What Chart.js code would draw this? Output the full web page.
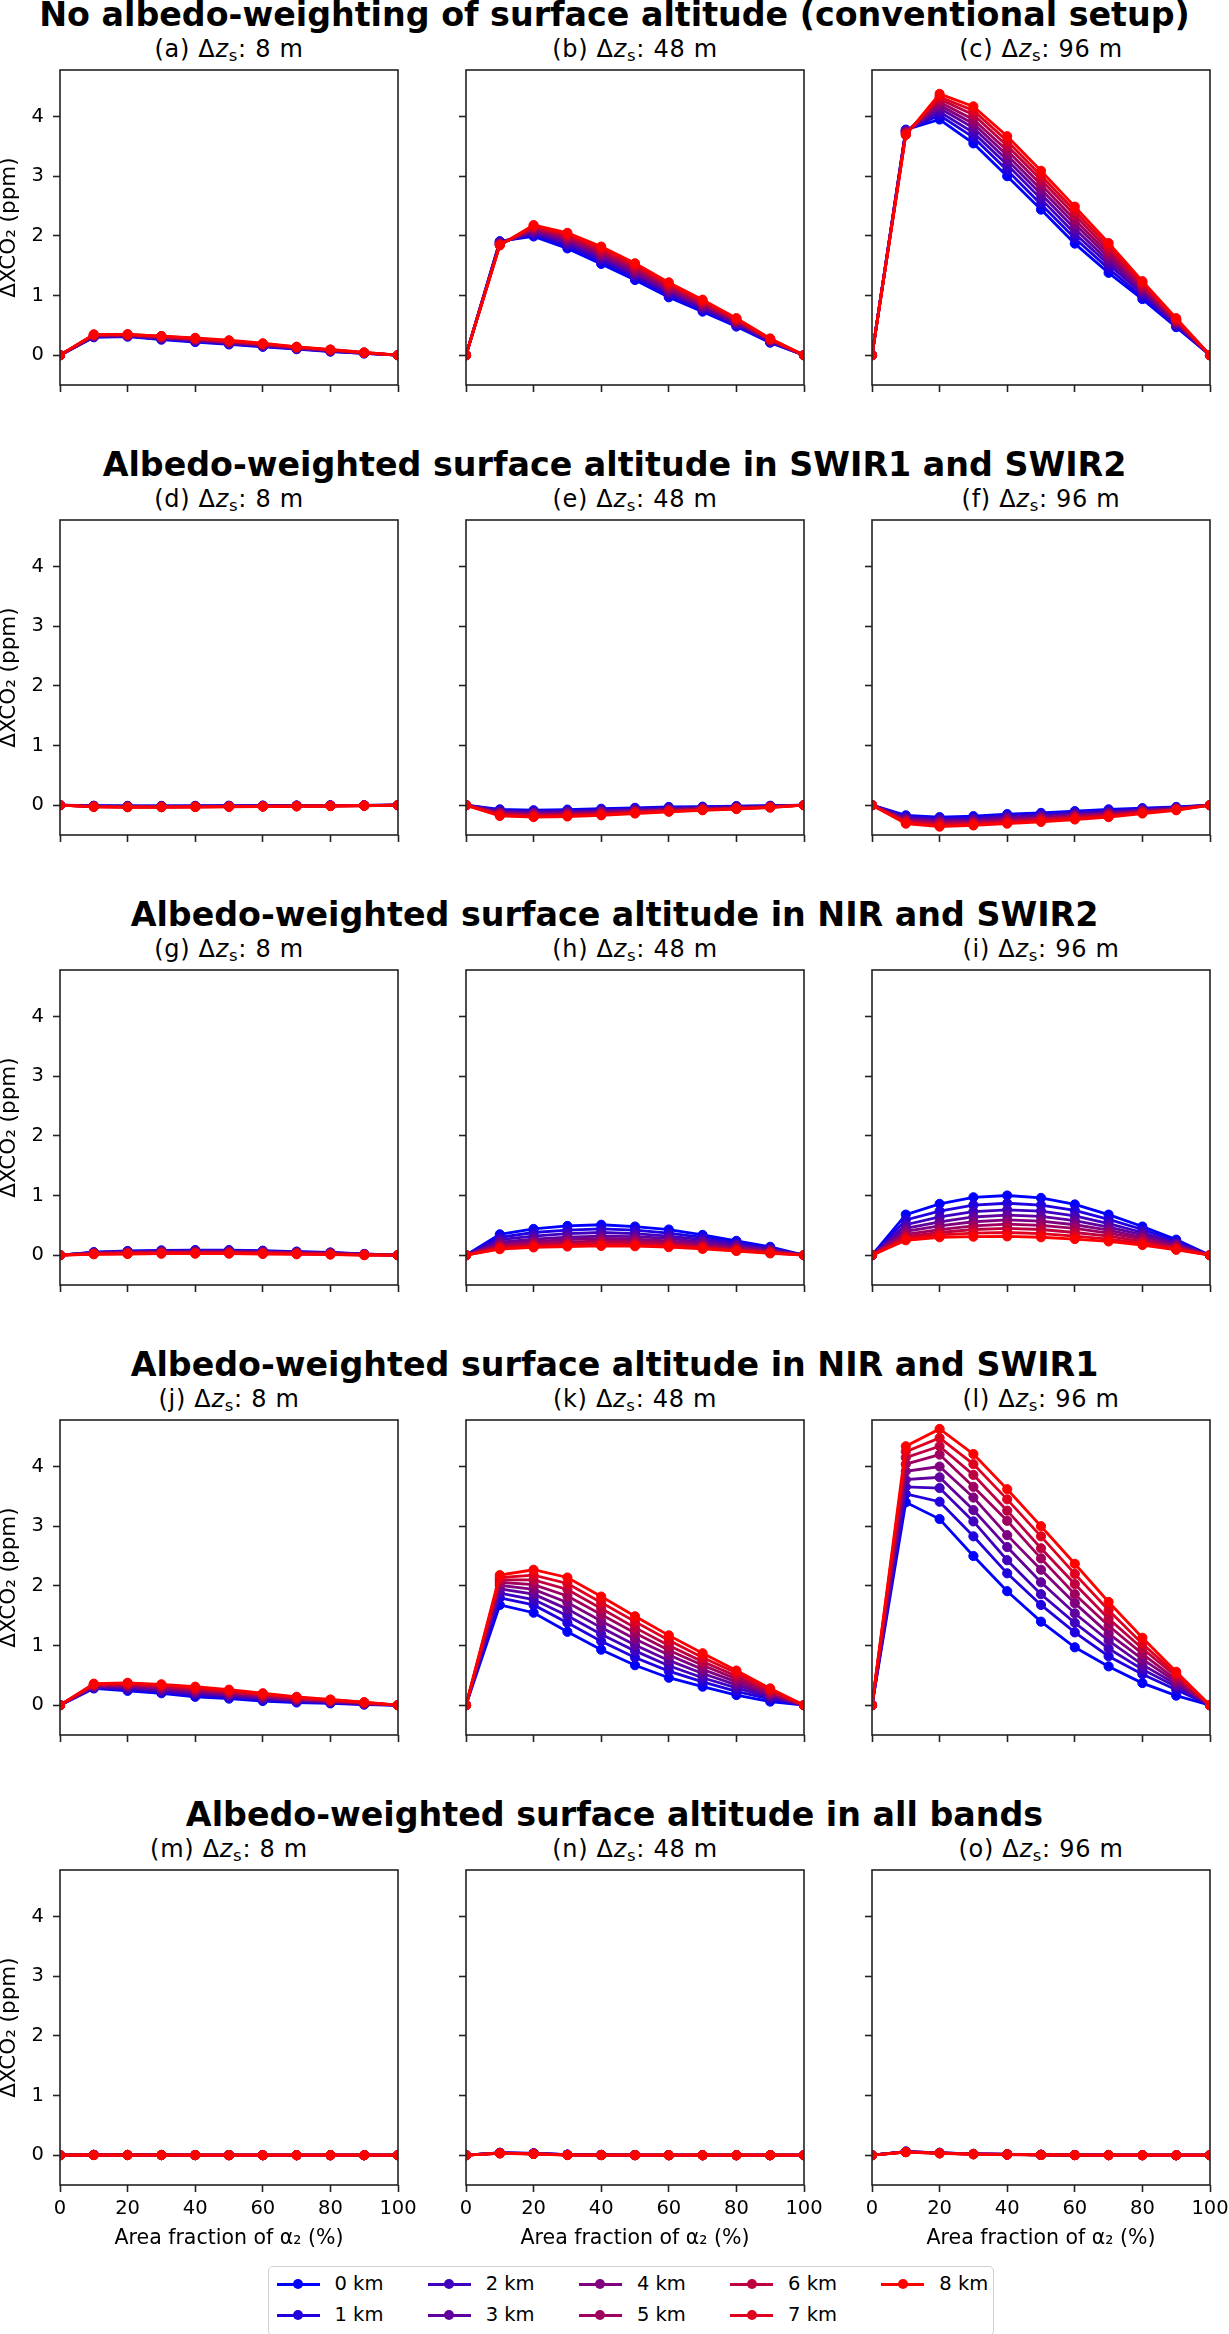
<!DOCTYPE html>
<html>
<head>
<meta charset="utf-8">
<script src="https://cdn.jsdelivr.net/npm/chart.js@4.4.1/dist/chart.umd.min.js"></script>
<style>
  body { margin: 0; background: #fff; font-family: "DejaVu Sans", sans-serif; }
  #fig { position: relative; width: 1229px; height: 2334px; overflow: hidden; background: #fff; }
  .rowtitle { position: absolute; left: 0; width: 1229px; text-align: center; font-weight: bold;
              font-size: 33.3px; line-height: 33.3px; white-space: nowrap; color: #000; }
  .sub { position: absolute; width: 338px; text-align: center; font-size: 24px; line-height: 24px;
         letter-spacing: 0.7px; white-space: nowrap; color: #000; }
  .sub sub { font-size: 16.5px; vertical-align: -4px; line-height: 0; }
  canvas { position: absolute; }
  #legend { position: absolute; left: 268px; top: 2266px; width: 726px; height: 70px;
            border: 1.5px solid #d0d0d0; border-radius: 5px; background: #fff; box-sizing: border-box; }
  .lg-item { position: absolute; height: 24px; }
  .lg-line { position: absolute; left: 0; top: 10.5px; width: 43px; height: 3px; }
  .lg-dot { position: absolute; left: 16.5px; top: 7px; width: 10px; height: 10px; border-radius: 50%; }
  .lg-text { position: absolute; left: 58px; top: 0; font-size: 19.5px; line-height: 24px; white-space: nowrap; }
</style>
</head>
<body>
<div id="fig"></div>
<script>
// x positions (area fraction of alpha2, %) and tick values
const xValues = [0, 10, 20, 30, 40, 50, 60, 70, 80, 90, 100];
const xTicks = [0, 20, 40, 60, 80, 100];
const yTicks = [0, 1, 2, 3, 4];
const altitudes = ['0 km', '1 km', '2 km', '3 km', '4 km', '5 km', '6 km', '7 km', '8 km'];
const colors = ['#0000ff', '#2000df', '#4000bf', '#60009f', '#800080', '#9f0060', '#bf0040', '#df0020', '#ff0000'];

const rowTitles = [
  'No albedo-weighting of surface altitude (conventional setup)',
  'Albedo-weighted surface altitude in SWIR1 and SWIR2',
  'Albedo-weighted surface altitude in NIR and SWIR2',
  'Albedo-weighted surface altitude in NIR and SWIR1',
  'Albedo-weighted surface altitude in all bands'
];
const panelLetters = ['a', 'b', 'c', 'd', 'e', 'f', 'g', 'h', 'i', 'j', 'k', 'l', 'm', 'n', 'o'];
const dzValues = [8, 48, 96];

// one row per altitude (0 km ... 8 km), values at xValues
const panelA = [
  [0, 0.30, 0.31, 0.26, 0.22, 0.18, 0.14, 0.10, 0.06, 0.03, 0],
  [0, 0.31, 0.32, 0.27, 0.23, 0.19, 0.15, 0.11, 0.065, 0.03, 0],
  [0, 0.31, 0.32, 0.28, 0.24, 0.20, 0.155, 0.11, 0.07, 0.035, 0],
  [0, 0.32, 0.33, 0.29, 0.25, 0.21, 0.16, 0.12, 0.075, 0.035, 0],
  [0, 0.33, 0.33, 0.29, 0.26, 0.21, 0.17, 0.12, 0.08, 0.04, 0],
  [0, 0.33, 0.34, 0.30, 0.27, 0.22, 0.18, 0.13, 0.085, 0.04, 0],
  [0, 0.34, 0.34, 0.31, 0.27, 0.23, 0.185, 0.13, 0.09, 0.04, 0],
  [0, 0.34, 0.35, 0.32, 0.28, 0.24, 0.19, 0.14, 0.09, 0.045, 0],
  [0, 0.35, 0.35, 0.32, 0.29, 0.25, 0.20, 0.14, 0.095, 0.045, 0]
];
const panelB = [
  [0, 1.91, 1.99, 1.79, 1.53, 1.26, 0.97, 0.73, 0.48, 0.21, 0],
  [0, 1.90, 2.02, 1.83, 1.57, 1.30, 1.00, 0.76, 0.50, 0.22, 0],
  [0, 1.89, 2.05, 1.86, 1.61, 1.34, 1.04, 0.78, 0.52, 0.23, 0],
  [0, 1.88, 2.07, 1.90, 1.65, 1.37, 1.07, 0.81, 0.54, 0.24, 0],
  [0, 1.87, 2.10, 1.93, 1.68, 1.40, 1.10, 0.83, 0.56, 0.25, 0],
  [0, 1.86, 2.12, 1.96, 1.72, 1.44, 1.13, 0.86, 0.57, 0.26, 0],
  [0, 1.85, 2.14, 1.99, 1.75, 1.47, 1.16, 0.88, 0.59, 0.26, 0],
  [0, 1.85, 2.16, 2.02, 1.79, 1.51, 1.19, 0.91, 0.61, 0.27, 0],
  [0, 1.84, 2.18, 2.05, 1.82, 1.54, 1.22, 0.93, 0.62, 0.28, 0]
];
const panelC = [
  [0, 3.78, 3.95, 3.55, 3.00, 2.44, 1.87, 1.38, 0.94, 0.47, 0],
  [0, 3.77, 4.02, 3.65, 3.10, 2.53, 1.96, 1.45, 0.98, 0.49, 0],
  [0, 3.76, 4.08, 3.73, 3.19, 2.62, 2.04, 1.52, 1.03, 0.51, 0],
  [0, 3.75, 4.14, 3.81, 3.27, 2.70, 2.12, 1.58, 1.07, 0.53, 0],
  [0, 3.74, 4.19, 3.88, 3.35, 2.78, 2.20, 1.64, 1.10, 0.55, 0],
  [0, 3.73, 4.24, 3.95, 3.43, 2.86, 2.27, 1.70, 1.14, 0.57, 0],
  [0, 3.72, 4.29, 4.03, 3.51, 2.94, 2.35, 1.76, 1.17, 0.59, 0],
  [0, 3.70, 4.33, 4.10, 3.59, 3.01, 2.42, 1.82, 1.21, 0.60, 0],
  [0, 3.69, 4.38, 4.17, 3.67, 3.09, 2.49, 1.88, 1.24, 0.62, 0]
];
const panelD = [
  [0, -0.010, -0.012, -0.012, -0.012, -0.010, -0.008, -0.006, -0.004, -0.002, 0],
  [0, -0.012, -0.015, -0.015, -0.014, -0.012, -0.010, -0.008, -0.005, -0.003, 0],
  [0, -0.015, -0.018, -0.018, -0.016, -0.014, -0.012, -0.010, -0.007, -0.004, 0],
  [0, -0.017, -0.021, -0.021, -0.019, -0.017, -0.014, -0.011, -0.008, -0.005, 0],
  [0, -0.020, -0.024, -0.024, -0.022, -0.019, -0.016, -0.013, -0.010, -0.006, 0],
  [0, -0.022, -0.027, -0.027, -0.024, -0.022, -0.018, -0.015, -0.011, -0.007, 0],
  [0, -0.025, -0.030, -0.030, -0.027, -0.024, -0.020, -0.016, -0.012, -0.008, 0],
  [0, -0.027, -0.032, -0.032, -0.029, -0.026, -0.022, -0.018, -0.014, -0.009, 0],
  [0, -0.030, -0.035, -0.035, -0.032, -0.028, -0.024, -0.020, -0.015, -0.010, 0]
];
const panelE = [
  [0, -0.07, -0.085, -0.075, -0.06, -0.045, -0.03, -0.025, -0.015, -0.01, 0],
  [0, -0.085, -0.10, -0.09, -0.075, -0.058, -0.043, -0.033, -0.022, -0.014, 0],
  [0, -0.10, -0.115, -0.105, -0.09, -0.07, -0.055, -0.041, -0.029, -0.018, 0],
  [0, -0.115, -0.13, -0.12, -0.105, -0.083, -0.066, -0.05, -0.036, -0.022, 0],
  [0, -0.13, -0.145, -0.135, -0.12, -0.095, -0.077, -0.058, -0.043, -0.026, 0],
  [0, -0.14, -0.16, -0.15, -0.13, -0.107, -0.087, -0.066, -0.049, -0.03, 0],
  [0, -0.155, -0.175, -0.165, -0.145, -0.118, -0.096, -0.073, -0.055, -0.033, 0],
  [0, -0.17, -0.19, -0.18, -0.16, -0.13, -0.104, -0.08, -0.06, -0.037, 0],
  [0, -0.18, -0.20, -0.19, -0.17, -0.14, -0.11, -0.085, -0.065, -0.04, 0]
];
const panelF = [
  [0, -0.17, -0.20, -0.185, -0.15, -0.13, -0.10, -0.07, -0.05, -0.03, 0],
  [0, -0.19, -0.22, -0.21, -0.17, -0.15, -0.12, -0.09, -0.063, -0.037, 0],
  [0, -0.21, -0.24, -0.23, -0.19, -0.17, -0.14, -0.11, -0.075, -0.044, 0],
  [0, -0.23, -0.26, -0.25, -0.21, -0.19, -0.16, -0.125, -0.087, -0.051, 0],
  [0, -0.245, -0.28, -0.27, -0.235, -0.21, -0.175, -0.14, -0.098, -0.058, 0],
  [0, -0.26, -0.30, -0.29, -0.255, -0.225, -0.19, -0.155, -0.108, -0.065, 0],
  [0, -0.275, -0.32, -0.305, -0.275, -0.24, -0.205, -0.17, -0.118, -0.072, 0],
  [0, -0.29, -0.34, -0.32, -0.29, -0.26, -0.22, -0.185, -0.13, -0.079, 0],
  [0, -0.31, -0.36, -0.34, -0.31, -0.28, -0.24, -0.20, -0.14, -0.085, 0]
];
const panelG = [
  [0, 0.050, 0.070, 0.080, 0.085, 0.085, 0.075, 0.060, 0.045, 0.020, 0],
  [0, 0.045, 0.063, 0.073, 0.077, 0.077, 0.068, 0.055, 0.041, 0.018, 0],
  [0, 0.041, 0.057, 0.066, 0.070, 0.070, 0.062, 0.050, 0.037, 0.016, 0],
  [0, 0.036, 0.050, 0.059, 0.062, 0.062, 0.055, 0.044, 0.033, 0.013, 0],
  [0, 0.032, 0.045, 0.053, 0.055, 0.055, 0.049, 0.039, 0.029, 0.011, 0],
  [0, 0.028, 0.039, 0.046, 0.048, 0.048, 0.043, 0.034, 0.024, 0.008, 0],
  [0, 0.023, 0.033, 0.039, 0.040, 0.040, 0.036, 0.029, 0.020, 0.005, 0],
  [0, 0.019, 0.027, 0.032, 0.033, 0.033, 0.029, 0.022, 0.015, 0.003, 0],
  [0, 0.015, 0.020, 0.025, 0.025, 0.025, 0.020, 0.015, 0.010, 0.000, 0]
];
const panelH = [
  [0, 0.35, 0.44, 0.49, 0.51, 0.48, 0.43, 0.34, 0.24, 0.14, 0],
  [0, 0.30, 0.38, 0.42, 0.44, 0.42, 0.37, 0.30, 0.21, 0.12, 0],
  [0, 0.26, 0.32, 0.36, 0.38, 0.36, 0.32, 0.26, 0.18, 0.10, 0],
  [0, 0.22, 0.27, 0.30, 0.32, 0.31, 0.28, 0.22, 0.15, 0.09, 0],
  [0, 0.19, 0.23, 0.26, 0.28, 0.27, 0.24, 0.19, 0.13, 0.07, 0],
  [0, 0.16, 0.20, 0.22, 0.24, 0.23, 0.21, 0.16, 0.11, 0.06, 0],
  [0, 0.14, 0.17, 0.19, 0.21, 0.20, 0.18, 0.14, 0.09, 0.05, 0],
  [0, 0.12, 0.15, 0.165, 0.18, 0.17, 0.155, 0.12, 0.08, 0.04, 0],
  [0, 0.10, 0.13, 0.145, 0.155, 0.15, 0.135, 0.105, 0.07, 0.03, 0]
];
const panelI = [
  [0, 0.68, 0.86, 0.97, 1.00, 0.96, 0.85, 0.68, 0.48, 0.26, 0],
  [0, 0.59, 0.74, 0.84, 0.87, 0.84, 0.75, 0.60, 0.43, 0.23, 0],
  [0, 0.51, 0.64, 0.73, 0.76, 0.74, 0.66, 0.53, 0.38, 0.20, 0],
  [0, 0.45, 0.56, 0.64, 0.67, 0.65, 0.58, 0.47, 0.34, 0.18, 0],
  [0, 0.40, 0.49, 0.56, 0.59, 0.57, 0.51, 0.42, 0.30, 0.16, 0],
  [0, 0.35, 0.43, 0.49, 0.52, 0.50, 0.45, 0.37, 0.27, 0.14, 0],
  [0, 0.31, 0.38, 0.43, 0.45, 0.43, 0.38, 0.32, 0.23, 0.12, 0],
  [0, 0.28, 0.34, 0.37, 0.38, 0.36, 0.32, 0.27, 0.20, 0.10, 0],
  [0, 0.25, 0.30, 0.31, 0.315, 0.30, 0.27, 0.23, 0.17, 0.09, 0]
];
const panelJ = [
  [0, 0.28, 0.24, 0.20, 0.14, 0.11, 0.07, 0.045, 0.03, 0.01, 0],
  [0, 0.29, 0.26, 0.22, 0.16, 0.13, 0.09, 0.06, 0.04, 0.015, 0],
  [0, 0.30, 0.28, 0.24, 0.19, 0.15, 0.11, 0.07, 0.05, 0.02, 0],
  [0, 0.31, 0.30, 0.26, 0.21, 0.17, 0.12, 0.08, 0.055, 0.025, 0],
  [0, 0.32, 0.32, 0.28, 0.23, 0.19, 0.14, 0.095, 0.065, 0.03, 0],
  [0, 0.33, 0.335, 0.30, 0.25, 0.21, 0.155, 0.105, 0.07, 0.035, 0],
  [0, 0.34, 0.35, 0.32, 0.27, 0.225, 0.17, 0.115, 0.08, 0.04, 0],
  [0, 0.35, 0.365, 0.335, 0.29, 0.24, 0.185, 0.13, 0.088, 0.045, 0],
  [0, 0.36, 0.375, 0.35, 0.31, 0.26, 0.20, 0.14, 0.095, 0.05, 0]
];
const panelK = [
  [0, 1.68, 1.55, 1.23, 0.93, 0.67, 0.46, 0.31, 0.17, 0.06, 0],
  [0, 1.80, 1.68, 1.38, 1.07, 0.80, 0.57, 0.39, 0.23, 0.10, 0],
  [0, 1.88, 1.77, 1.50, 1.19, 0.91, 0.66, 0.46, 0.29, 0.13, 0],
  [0, 1.95, 1.86, 1.61, 1.30, 1.01, 0.75, 0.53, 0.34, 0.16, 0],
  [0, 2.01, 1.94, 1.72, 1.41, 1.11, 0.84, 0.60, 0.39, 0.18, 0],
  [0, 2.06, 2.02, 1.83, 1.52, 1.21, 0.92, 0.67, 0.44, 0.21, 0],
  [0, 2.10, 2.10, 1.94, 1.62, 1.30, 1.00, 0.73, 0.49, 0.23, 0],
  [0, 2.14, 2.18, 2.04, 1.72, 1.40, 1.09, 0.80, 0.54, 0.26, 0],
  [0, 2.18, 2.27, 2.14, 1.82, 1.49, 1.17, 0.87, 0.58, 0.28, 0]
];
const panelL = [
  [0, 3.40, 3.12, 2.50, 1.91, 1.40, 0.97, 0.65, 0.37, 0.16, 0],
  [0, 3.54, 3.41, 2.83, 2.21, 1.68, 1.22, 0.82, 0.52, 0.26, 0],
  [0, 3.66, 3.64, 3.08, 2.43, 1.86, 1.38, 0.95, 0.60, 0.31, 0],
  [0, 3.78, 3.82, 3.27, 2.65, 2.06, 1.54, 1.08, 0.68, 0.35, 0],
  [0, 3.92, 4.00, 3.48, 2.85, 2.27, 1.71, 1.20, 0.77, 0.39, 0],
  [0, 4.04, 4.20, 3.66, 3.09, 2.46, 1.86, 1.33, 0.86, 0.43, 0],
  [0, 4.15, 4.34, 3.86, 3.26, 2.63, 2.03, 1.45, 0.95, 0.48, 0],
  [0, 4.25, 4.48, 4.04, 3.45, 2.83, 2.20, 1.59, 1.03, 0.52, 0],
  [0, 4.34, 4.63, 4.21, 3.62, 3.00, 2.37, 1.73, 1.13, 0.56, 0]
];
const panelM = [
  [0, 0.005, 0.004, 0.003, 0.002, 0.002, 0.001, 0.001, 0, 0, 0],
  [0, 0.005, 0.004, 0.003, 0.002, 0.002, 0.001, 0.001, 0, 0, 0],
  [0, 0.004, 0.004, 0.003, 0.002, 0.001, 0.001, 0.001, 0, 0, 0],
  [0, 0.004, 0.003, 0.002, 0.002, 0.001, 0.001, 0, 0, 0, 0],
  [0, 0.004, 0.003, 0.002, 0.002, 0.001, 0.001, 0, 0, 0, 0],
  [0, 0.003, 0.003, 0.002, 0.001, 0.001, 0.001, 0, 0, 0, 0],
  [0, 0.003, 0.002, 0.002, 0.001, 0.001, 0, 0, 0, 0, 0],
  [0, 0.003, 0.002, 0.001, 0.001, 0.001, 0, 0, 0, 0, 0],
  [0, 0.002, 0.002, 0.001, 0.001, 0, 0, 0, 0, 0, 0]
];
const panelN = [
  [0, 0.040, 0.030, 0.008, 0.004, 0.002, 0.001, 0, 0, 0, 0],
  [0, 0.039, 0.029, 0.008, 0.004, 0.002, 0.001, 0, 0, 0, 0],
  [0, 0.038, 0.028, 0.007, 0.003, 0.002, 0.001, 0, 0, 0, 0],
  [0, 0.036, 0.027, 0.007, 0.003, 0.002, 0.001, 0, 0, 0, 0],
  [0, 0.035, 0.025, 0.006, 0.003, 0.001, 0, 0, 0, 0, 0],
  [0, 0.034, 0.024, 0.005, 0.002, 0.001, 0, 0, 0, 0, 0],
  [0, 0.033, 0.023, 0.004, 0.002, 0.001, 0, 0, 0, 0, 0],
  [0, 0.031, 0.021, 0.003, 0.001, 0.001, 0, 0, 0, 0, 0],
  [0, 0.030, 0.020, 0.002, 0.001, 0, 0, 0, 0, 0, 0]
];
const panelO = [
  [0, 0.060, 0.040, 0.022, 0.016, 0.006, 0.003, 0.002, 0.001, 0, 0],
  [0, 0.059, 0.039, 0.021, 0.015, 0.006, 0.003, 0.002, 0.001, 0, 0],
  [0, 0.058, 0.038, 0.020, 0.015, 0.005, 0.003, 0.002, 0.001, 0, 0],
  [0, 0.056, 0.036, 0.019, 0.014, 0.005, 0.002, 0.001, 0, 0, 0],
  [0, 0.055, 0.035, 0.018, 0.013, 0.005, 0.002, 0.001, 0, 0, 0],
  [0, 0.054, 0.034, 0.018, 0.012, 0.005, 0.002, 0.001, 0, 0, 0],
  [0, 0.053, 0.033, 0.017, 0.011, 0.004, 0.002, 0.001, 0, 0, 0],
  [0, 0.051, 0.031, 0.016, 0.011, 0.004, 0.001, 0, 0, 0, 0],
  [0, 0.050, 0.030, 0.015, 0.010, 0.004, 0.001, 0, 0, 0, 0]
];
const panels = [panelA, panelB, panelC, panelD, panelE, panelF, panelG, panelH, panelI,
                panelJ, panelK, panelL, panelM, panelN, panelO];

// figure geometry (plot boxes in page pixels)
const colLeft = [60, 466, 872];
const plotW = 338, plotH = 315, rowPitch = 450, firstTop = 70;
const yAxisW = 60, pad = 24;
const FONT = '"DejaVu Sans", sans-serif';

const fig = document.getElementById('fig');

// draws the four spines of each axes box
const framePlugin = {
  id: 'frame',
  afterDatasetsDraw(chart) {
    const { ctx, chartArea: a } = chart;
    ctx.save();
    ctx.strokeStyle = '#222';
    ctx.lineWidth = 1.6;
    ctx.strokeRect(a.left, a.top, a.right - a.left, a.bottom - a.top);
    ctx.restore();
  }
};

function makePanel(row, col) {
  const idx = row * 3 + col;
  const isBottom = row === 4;
  const isLeft = col === 0;
  const xAxisH = isBottom ? 66 : 10;
  const plotTop = firstTop + row * rowPitch;

  // subtitle
  const sub = document.createElement('div');
  sub.className = 'sub';
  sub.style.left = colLeft[col] + 'px';
  sub.style.top = (plotTop - 33) + 'px';
  sub.innerHTML = '(' + panelLetters[idx] + ') \u0394<i>z</i><sub>s</sub>: ' + dzValues[col] + ' m';
  fig.appendChild(sub);

  const canvas = document.createElement('canvas');
  const cw = yAxisW + plotW + pad;
  const ch = pad + plotH + xAxisH + pad;
  canvas.width = cw;
  canvas.height = ch;
  canvas.style.width = cw + 'px';
  canvas.style.height = ch + 'px';
  canvas.style.left = (colLeft[col] - yAxisW) + 'px';
  canvas.style.top = (plotTop - pad) + 'px';
  fig.appendChild(canvas);

  const data = panels[idx];
  const datasets = altitudes.map((label, i) => ({
    label: label,
    data: xValues.map((x, j) => ({ x: x, y: data[i][j] })),
    borderColor: colors[i],
    backgroundColor: colors[i],
    pointBackgroundColor: colors[i],
    pointBorderColor: colors[i],
    borderWidth: 2.8,
    pointRadius: 4.6,
    pointBorderWidth: 1,
    tension: 0,
    clip: 0,
    order: altitudes.length - i
  }));

  const gridOpts = {
    display: true,
    drawOnChartArea: false,
    drawTicks: true,
    tickLength: 7,
    tickWidth: 1.6,
    tickColor: '#222',
    color: '#222'
  };

  new Chart(canvas.getContext('2d'), {
    type: 'line',
    data: { datasets: datasets },
    plugins: [framePlugin],
    options: {
      responsive: false,
      animation: false,
      events: [],
      devicePixelRatio: 1,
      layout: { padding: { left: 0, top: pad, right: pad, bottom: pad } },
      plugins: { legend: { display: false }, tooltip: { enabled: false } },
      scales: {
        x: {
          type: 'linear',
          min: 0,
          max: 100,
          afterBuildTicks: s => { s.ticks = xTicks.map(v => ({ value: v })); },
          afterFit: s => { s.height = xAxisH; },
          border: { display: false },
          grid: gridOpts,
          ticks: {
            display: isBottom,
            color: '#000',
            font: { family: FONT, size: 19.5 },
            padding: 5,
            maxRotation: 0,
            autoSkip: false
          },
          title: {
            display: isBottom,
            text: 'Area fraction of \u03b1\u2082 (%)',
            color: '#000',
            font: { family: FONT, size: 20.5, lineHeight: 1.2 },
            padding: { top: 0, bottom: 0 }
          }
        },
        y: {
          type: 'linear',
          min: -0.5,
          max: 4.78,
          afterBuildTicks: s => { s.ticks = yTicks.map(v => ({ value: v })); },
          afterFit: s => { s.width = yAxisW; },
          border: { display: false },
          grid: gridOpts,
          ticks: {
            display: isLeft,
            color: '#000',
            font: { family: FONT, size: 19.5 },
            padding: 9
          },
          title: {
            display: isLeft,
            text: '\u0394XCO\u2082 (ppm)',
            color: '#000',
            font: { family: FONT, size: 21.5, lineHeight: 0.9 },
            padding: 0
          }
        }
      }
    }
  });
}

rowTitles.forEach((t, r) => {
  const d = document.createElement('div');
  d.className = 'rowtitle';
  d.style.top = (-2 + r * rowPitch) + 'px';
  d.textContent = t;
  fig.appendChild(d);
  for (let c = 0; c < 3; c++) makePanel(r, c);
});

// legend, column-major like the original (2 rows x 5 columns)
const legend = document.createElement('div');
legend.id = 'legend';
fig.appendChild(legend);
altitudes.forEach((label, i) => {
  const col = Math.floor(i / 2), row = i % 2;
  const item = document.createElement('div');
  item.className = 'lg-item';
  item.style.left = (7.5 + col * 151.2) + 'px';
  item.style.top = (5 + row * 31.4) + 'px';
  item.innerHTML = '<div class="lg-line" style="background:' + colors[i] + '"></div>' +
                   '<div class="lg-dot" style="background:' + colors[i] + '"></div>' +
                   '<div class="lg-text">' + label + '</div>';
  legend.appendChild(item);
});
</script>
</body>
</html>
